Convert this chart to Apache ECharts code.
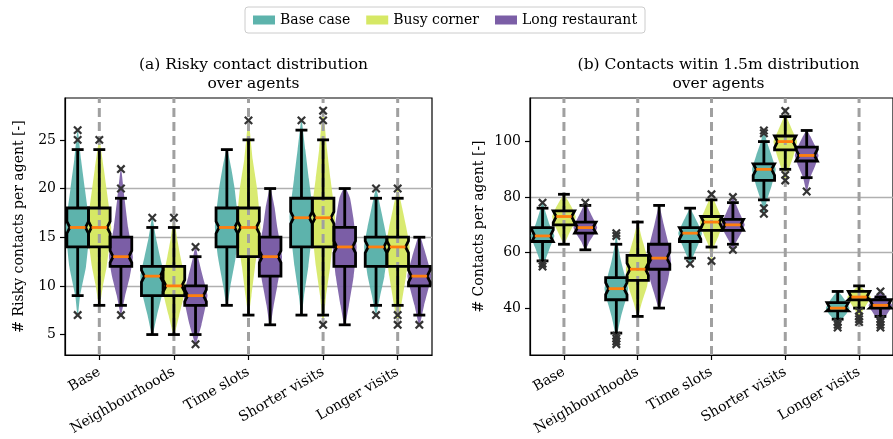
<!DOCTYPE html>
<html><head><meta charset="utf-8">
<script src="https://cdn.jsdelivr.net/npm/echarts@6/dist/echarts.min.js"></script>
<style>html,body{margin:0;padding:0;background:#fff}#c{width:893px;height:439px}</style>
</head><body><div id="c"></div>
<script>
const categories = ['Base', 'Neighbourhoods', 'Time slots', 'Shorter visits', 'Longer visits'];
const groupNames = ['Base case', 'Busy corner', 'Long restaurant'];
const groupColors = ['#5db3ac', '#d6e865', '#7b5ea6'];

// Panel (a): [lower whisker, Q1, median, Q3, upper whisker] per category
const riskyBaseCase   = [[9,14,16,18,24],[5,9,11,12,16],[8,14,16,18,24],[7,14,17,19,26],[8,12,14,15,19]];
const riskyBusyCorner = [[8,14,16,18,24],[5,9,10,12,16],[7,13,16,18,25],[7,14,17,19,25],[8,12,14,15,19]];
const riskyLongRest   = [[8,12,13,15,19],[5,8,9,10,13],[6,11,13,15,20],[6,12,14,16,20],[7,10,11,12,15]];
const riskyOutBaseCase   = [[26,25,7],[17],[],[27],[20,7]];
const riskyOutBusyCorner = [[25],[17],[27],[28,27,6],[20,7,6]];
const riskyOutLongRest   = [[22,20,7],[14,4],[],[],[6]];
// violin profiles: [value, relative density]
const riskyViolinBaseCase = [
  [[7,0.03],[9,0.2],[12,0.7],[16,1],[20,0.6],[23,0.28],[26,0.03]],
  [[5,0.05],[7,0.4],[9,0.8],[11,1],[13,0.65],[15,0.3],[17,0.03]],
  [[8,0.05],[10,0.3],[13,0.75],[16,1],[20,0.65],[22,0.38],[24,0.05]],
  [[7,0.03],[9,0.22],[12,0.58],[17,1],[21,0.62],[24,0.32],[27,0.03]],
  [[7,0.03],[9,0.35],[11,0.7],[14,1],[16,0.72],[18,0.38],[20,0.03]]
];
const riskyViolinBusyCorner = [
  [[8,0.05],[10,0.3],[12,0.62],[16,1],[20,0.6],[22,0.38],[25,0.03]],
  [[5,0.05],[7,0.45],[10,1],[13,0.55],[15,0.25],[17,0.03]],
  [[7,0.03],[9,0.25],[12,0.55],[16,1],[20,0.72],[23,0.35],[27,0.03]],
  [[6,0.03],[9,0.25],[12,0.6],[17,1],[21,0.62],[24,0.33],[28,0.03]],
  [[6,0.03],[8,0.3],[11,0.7],[14,1],[16,0.72],[18,0.38],[20,0.03]]
];
const riskyViolinLongRest = [
  [[7,0.03],[9,0.35],[11,0.75],[13,1],[16,0.6],[19,0.3],[22,0.03]],
  [[4,0.03],[6,0.5],[9,1],[11,0.6],[13,0.2],[14,0.03]],
  [[6,0.05],[8,0.3],[10,0.6],[13,1],[16,0.6],[18,0.38],[20,0.05]],
  [[6,0.05],[8,0.35],[11,0.75],[14,1],[17,0.72],[19,0.45],[20,0.1]],
  [[6,0.05],[8,0.4],[11,1],[13,0.6],[15,0.1]]
];

// Panel (b)
const contactsBaseCase   = [[57,64,66,69,76],[31,43,47,51,63],[58,64,67,69,76],[79,86,90,92,100],[36,39,40,42,46]];
const contactsBusyCorner = [[63,70,73,75,81],[37,50,54,59,71],[62,68,71,73,79],[90,97,100,102,109],[40,43,44,46,48]];
const contactsLongRest   = [[61,67,69,71,77],[40,54,58,63,77],[63,68,70,72,78],[87,93,95,98,104],[37,40,41,43,44]];
const contactsOutBaseCase   = [[78,56,55],[67,66,30,29,28,27],[56],[104,103,76,74],[35,34,33]];
const contactsOutBusyCorner = [[],[],[81,57],[111,88,86],[39,37,36,35]];
const contactsOutLongRest   = [[78],[],[80,61],[82],[46,36,35,34,33]];
const contactsViolinBaseCase = [
  [[55,0.03],[58,0.3],[62,0.65],[66,1],[70,0.6],[74,0.3],[78,0.03]],
  [[27,0.02],[31,0.1],[37,0.4],[43,0.8],[47,1],[52,0.7],[57,0.4],[63,0.12],[67,0.02]],
  [[56,0.03],[59,0.3],[63,0.7],[67,1],[71,0.6],[74,0.25],[76,0.03]],
  [[74,0.03],[78,0.2],[84,0.65],[90,1],[95,0.65],[100,0.25],[104,0.03]],
  [[33,0.05],[36,0.35],[38,0.75],[40,1],[43,0.6],[45,0.25],[46,0.05]]
];
const contactsViolinBusyCorner = [
  [[63,0.03],[66,0.35],[70,0.8],[73,1],[76,0.7],[79,0.3],[81,0.03]],
  [[37,0.03],[42,0.35],[48,0.8],[54,1],[60,0.7],[66,0.3],[71,0.03]],
  [[57,0.03],[62,0.2],[66,0.6],[71,1],[75,0.6],[79,0.2],[81,0.03]],
  [[86,0.03],[90,0.3],[95,0.7],[100,1],[104,0.6],[108,0.2],[111,0.03]],
  [[35,0.05],[39,0.3],[42,0.75],[44,1],[46,0.6],[48,0.05]]
];
const contactsViolinLongRest = [
  [[61,0.03],[64,0.35],[67,0.8],[69,1],[72,0.7],[75,0.35],[78,0.03]],
  [[40,0.05],[45,0.4],[50,0.75],[57,1],[63,0.8],[70,0.4],[77,0.03]],
  [[61,0.03],[64,0.3],[67,0.7],[70,1],[74,0.6],[78,0.2],[80,0.03]],
  [[82,0.03],[87,0.3],[91,0.7],[95,1],[99,0.65],[102,0.3],[104,0.03]],
  [[33,0.05],[36,0.3],[39,0.75],[41,1],[43,0.7],[45,0.3],[46,0.05]]
];

const yTicksA = [5, 10, 15, 20, 25];
const yTicksB = [40, 60, 80, 100];

// ---- layout / style ----
const FONT = 'DejaVu Serif';
const OFFS = [-0.29, 0, 0.29];
const BOX_W = 0.29, CAP_W = 0.16, VIOLIN_W = 0.32;
const NOTCH_H = 6, NOTCH_D = 3;
const X_MIN = -0.46, X_MAX = 4.46;
const LW = 2.8;

const panels = [
  { stats: [riskyBaseCase, riskyBusyCorner, riskyLongRest],
    outs: [riskyOutBaseCase, riskyOutBusyCorner, riskyOutLongRest],
    violins: [riskyViolinBaseCase, riskyViolinBusyCorner, riskyViolinLongRest],
    yMin: 2.9, yMax: 29.3, ticks: yTicksA, yName: '# Risky contacts per agent [-]',
    title: '(a) Risky contact distribution\nover agents' },
  { stats: [contactsBaseCase, contactsBusyCorner, contactsLongRest],
    outs: [contactsOutBaseCase, contactsOutBusyCorner, contactsOutLongRest],
    violins: [contactsViolinBaseCase, contactsViolinBusyCorner, contactsViolinLongRest],
    yMin: 23.1, yMax: 115.7, ticks: yTicksB, yName: '# Contacts per agent [-]',
    title: '(b) Contacts witin 1.5m distribution\nover agents' }
];

const grids = [
  { left: 65, top: 98, width: 367, bottom: 84 },
  { left: 530, top: 98, width: 367, bottom: 84 }
];

const xAxes = [], yAxes = [], series = [], titles = [];
panels.forEach((P, pi) => {
  xAxes.push({
    type: 'value', gridIndex: pi, min: X_MIN, max: X_MAX,
    axisLine: { onZero: false, lineStyle: { color: '#000', width: 1.2 } },
    axisTick: { show: true, length: 5, lineStyle: { color: '#000', width: 1.2 }, customValues: [0,1,2,3,4] },
    axisLabel: { customValues: [0,1,2,3,4], rotate: 30, margin: 16, fontFamily: FONT, fontSize: 14, color: '#000',
      formatter: v => (Number.isInteger(v) && v >= 0 && v < categories.length) ? categories[v] : '' },
    splitLine: { show: false }
  });
  yAxes.push({
    type: 'value', gridIndex: pi, min: P.yMin, max: P.yMax, splitNumber: 5,
    name: P.yName, nameLocation: 'middle', nameRotate: 90, nameGap: pi === 0 ? 39 : 44,
    nameTextStyle: { fontFamily: FONT, fontSize: 14, color: '#000' },
    axisLine: { show: true, onZero: false, lineStyle: { color: '#000', width: 1.2 } },
    axisTick: { show: true, length: 5, lineStyle: { color: '#000', width: 1.2 }, customValues: P.ticks },
    axisLabel: { customValues: P.ticks, margin: 9, fontFamily: FONT, fontSize: 14, color: '#000',
      formatter: v => (P.ticks.indexOf(v) >= 0 ? String(v) : '') },
    splitLine: { show: true, showMinLine: false, showMaxLine: false, lineStyle: { color: '#b0b0b0', width: 1.3 } }
  });
  titles.push({
    text: P.title, left: pi === 0 ? 248.5 : 713.5, top: 50, textAlign: 'center',
    textStyle: { fontFamily: FONT, fontSize: 15.5, fontWeight: 'normal', color: '#000', lineHeight: 19 }
  });

  const catData = g => categories.map((c, i) => [i, g]);

  // violins
  for (let g = 0; g < 3; g++) {
    series.push({
      type: 'custom', name: groupNames[g], xAxisIndex: pi, yAxisIndex: pi, z: 2,
      itemStyle: { color: groupColors[g] }, silent: true, clip: true,
      data: catData(g),
      renderItem: (params, api) => {
        const cat = api.value(0), grp = api.value(1);
        const prof = P.violins[grp][cat];
        const xc = cat + OFFS[grp];
        const right = prof.map(([v, r]) => api.coord([xc + VIOLIN_W / 2 * r, v]));
        const left = prof.map(([v, r]) => api.coord([xc - VIOLIN_W / 2 * r, v])).reverse();
        return { type: 'polygon', shape: { points: right.concat(left), smooth: 0.12 },
          style: { fill: groupColors[grp], opacity: 0.92 } };
      }
    });
  }
  // box geometry helper
  const boxGeom = (api, cat, grp) => {
    const s = P.stats[grp][cat];
    const xc = cat + OFFS[grp];
    const pc = api.coord([xc, s[2]]);
    const L = api.coord([xc - BOX_W / 2, s[2]])[0];
    const R = api.coord([xc + BOX_W / 2, s[2]])[0];
    const yQ1 = api.coord([xc, s[1]])[1], yQ3 = api.coord([xc, s[3]])[1];
    const yLo = api.coord([xc, s[0]])[1], yHi = api.coord([xc, s[4]])[1];
    const cl = api.coord([xc - CAP_W / 2, s[2]])[0], cr = api.coord([xc + CAP_W / 2, s[2]])[0];
    const ym = pc[1];
    const nd = Math.min(NOTCH_H, yQ1 - ym), nu = Math.min(NOTCH_H, ym - yQ3);
    const pts = [[L, yQ1], [L, ym + nd], [L + NOTCH_D, ym], [L, ym - nu], [L, yQ3],
                 [R, yQ3], [R, ym - nu], [R - NOTCH_D, ym], [R, ym + nd], [R, yQ1]];
    return { x: pc[0], L, R, ym, yQ1, yQ3, yLo, yHi, cl, cr, pts };
  };
  // box fills
  for (let g = 0; g < 3; g++) {
    series.push({
      type: 'custom', name: groupNames[g], xAxisIndex: pi, yAxisIndex: pi, z: 3,
      itemStyle: { color: groupColors[g] }, silent: true, clip: true,
      data: catData(g),
      renderItem: (params, api) => {
        const b = boxGeom(api, api.value(0), api.value(1));
        return { type: 'polygon', shape: { points: b.pts }, style: { fill: groupColors[api.value(1)] } };
      }
    });
  }
  // dashed category lines
  series.push({
    type: 'custom', xAxisIndex: pi, yAxisIndex: pi, z: 4, silent: true, clip: true,
    data: categories.map((c, i) => [i]),
    renderItem: (params, api) => {
      const a = api.coord([api.value(0), P.yMin]), b = api.coord([api.value(0), P.yMax]);
      return { type: 'line', shape: { x1: a[0], y1: a[1], x2: b[0], y2: b[1] },
        style: { stroke: '#a0a0a0', lineWidth: 3, lineDash: [9, 5] } };
    }
  });
  // box outlines, whiskers, medians
  for (let g = 0; g < 3; g++) {
    series.push({
      type: 'custom', name: groupNames[g], xAxisIndex: pi, yAxisIndex: pi, z: 5,
      itemStyle: { color: groupColors[g] }, silent: true, clip: true,
      data: catData(g),
      renderItem: (params, api) => {
        const b = boxGeom(api, api.value(0), api.value(1));
        const k = { stroke: '#000', lineWidth: LW, fill: null };
        return { type: 'group', children: [
          { type: 'line', shape: { x1: b.x, y1: b.yQ3, x2: b.x, y2: b.yHi }, style: k },
          { type: 'line', shape: { x1: b.x, y1: b.yQ1, x2: b.x, y2: b.yLo }, style: k },
          { type: 'line', shape: { x1: b.cl, y1: b.yHi, x2: b.cr, y2: b.yHi }, style: k },
          { type: 'line', shape: { x1: b.cl, y1: b.yLo, x2: b.cr, y2: b.yLo }, style: k },
          { type: 'polygon', shape: { points: b.pts }, style: { stroke: '#000', lineWidth: LW, fill: null, lineJoin: 'miter' } },
          { type: 'line', shape: { x1: b.L + NOTCH_D, y1: b.ym, x2: b.R - NOTCH_D, y2: b.ym },
            style: { stroke: '#ff7f0e', lineWidth: 2.8 } }
        ] };
      }
    });
  }
  // outliers
  for (let g = 0; g < 3; g++) {
    const od = [];
    P.outs[g].forEach((arr, cat) => arr.forEach(v => od.push([cat, g, v])));
    series.push({
      type: 'custom', name: groupNames[g], xAxisIndex: pi, yAxisIndex: pi, z: 6,
      itemStyle: { color: groupColors[g] }, silent: true, clip: true,
      data: od,
      renderItem: (params, api) => {
        const p = api.coord([api.value(0) + OFFS[api.value(1)], api.value(2)]);
        const r = 3.7, st = { stroke: '#333', lineWidth: 2.2 };
        return { type: 'group', children: [
          { type: 'line', shape: { x1: p[0] - r, y1: p[1] - r, x2: p[0] + r, y2: p[1] + r }, style: st },
          { type: 'line', shape: { x1: p[0] - r, y1: p[1] + r, x2: p[0] + r, y2: p[1] - r }, style: st }
        ] };
      }
    });
  }
});

const chart = echarts.init(document.getElementById('c'), null, { renderer: 'canvas' });
chart.setOption({
  animation: false,
  backgroundColor: '#fff',
  title: titles,
  legend: {
    data: groupNames.map(n => ({ name: n, icon: 'rect', itemStyle: { color: groupColors[groupNames.indexOf(n)] } })),
    left: 245, top: 7, itemWidth: 22, itemHeight: 9, itemGap: 16,
    borderColor: '#cccccc', borderWidth: 1, borderRadius: 3, padding: [6, 8, 6, 8],
    textStyle: { fontFamily: FONT, fontSize: 14, color: '#000' }
  },
  grid: grids.map(g => Object.assign({ show: true, borderColor: '#000', borderWidth: 1.2, backgroundColor: 'transparent', containLabel: false }, g)),
  xAxis: xAxes,
  yAxis: yAxes,
  series: series
});
</script></body></html>
